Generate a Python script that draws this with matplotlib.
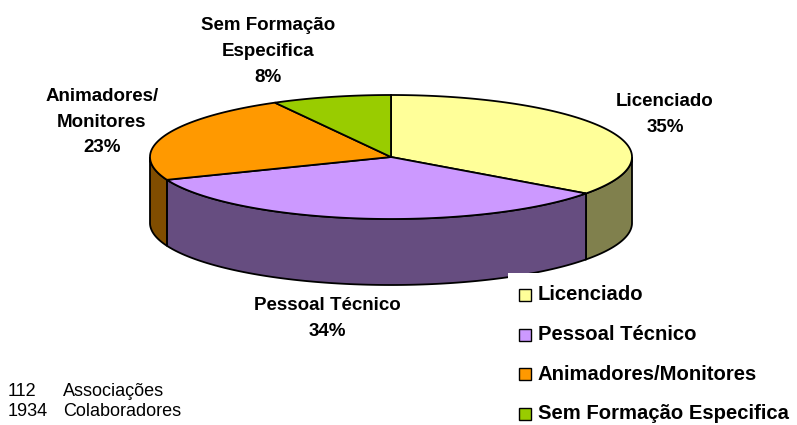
import numpy as np
import matplotlib.pyplot as plt
from matplotlib.patches import Polygon, Rectangle

plt.rcParams['font.family'] = ['Liberation Sans', 'DejaVu Sans']

# Dados do grafico
categorias = ['Licenciado', 'Pessoal Técnico', 'Animadores/Monitores', 'Sem Formação Especifica']
valores = [35, 34, 23, 8]
rotulos = [['Licenciado', '35%'],
           ['Pessoal Técnico', '34%'],
           ['Animadores/', 'Monitores', '23%'],
           ['Sem Formação', 'Especifica', '8%']]
cor_topo = ['#FFFF99', '#CC99FF', '#FF9900', '#99CC00']
cor_lado = ['#80804D', '#664D80', '#804D00', '#4D6600']
numeros = ['112', '1934']
descricoes = ['Associações', 'Colaboradores']

# Geometria da torta (em pixels)
cx, cy = 391, 157
a, b = 241, 62
prof = 66

# posicoes dos rotulos (centro da primeira linha)
pos_rotulos = [(665, 101), (327, 305), (102, 96), (268, 25)]


def ponto(t):
    return cx + a * np.cos(t), cy - b * np.sin(t)


fig = plt.figure(figsize=(7.97, 4.25), dpi=100)
ax = fig.add_axes([0, 0, 1, 1])
ax.set_xlim(0, 797)
ax.set_ylim(425, 0)
ax.axis('off')

total = sum(valores)
acum = np.concatenate([[0], np.cumsum(valores)])
inicio = 90 - 360 * acum[:-1] / total
fim = 90 - 360 * acum[1:] / total

# Paredes laterais (so a parte da frente)
for i in range(len(valores)):
    for k in (-1, 0, 1):
        lo = max(fim[i], -180 + 360 * k)
        hi = min(inicio[i], 0 + 360 * k)
        if hi <= lo:
            continue
        ts = np.radians(np.linspace(hi, lo, 120))
        xs, ys = ponto(ts)
        pts = np.column_stack([np.concatenate([xs, xs[::-1]]),
                               np.concatenate([ys, ys[::-1] + prof])])
        ax.add_patch(Polygon(pts, closed=True, facecolor=cor_lado[i],
                             edgecolor='black', linewidth=1.3, zorder=2))

# Faces de cima
for i in range(len(valores)):
    ts = np.radians(np.linspace(inicio[i], fim[i], 200))
    xs, ys = ponto(ts)
    pts = np.column_stack([np.concatenate([[cx], xs]), np.concatenate([[cy], ys])])
    ax.add_patch(Polygon(pts, closed=True, facecolor=cor_topo[i],
                         edgecolor='black', linewidth=1.3, zorder=3))

# Rotulos
for linhas, (x, y) in zip(rotulos, pos_rotulos):
    for j, linha in enumerate(linhas):
        ax.text(x, y + 26 * j, linha, ha='center', va='center',
                fontsize=13.5, fontweight='bold', color='black', zorder=5)

# Legenda
ax.add_patch(Rectangle((508, 273), 289, 152, facecolor='white',
                       edgecolor='none', zorder=4))
for i, nome in enumerate(categorias):
    y = 295 + 39.5 * i
    ax.add_patch(Rectangle((519, y - 6), 12, 12, facecolor=cor_topo[i],
                           edgecolor='black', linewidth=1.0, zorder=5))
    ax.text(538, y, nome, ha='left', va='center', fontsize=14.6,
            fontweight='bold', color='black', zorder=5)

# Totais
for j, (n, d) in enumerate(zip(numeros, descricoes)):
    y = 391 + 21 * j
    ax.text(8, y, n, ha='left', va='center', fontsize=13, color='black')
    ax.text(63, y, d, ha='left', va='center', fontsize=13, color='black')

fig.savefig('out.png', dpi=100)
